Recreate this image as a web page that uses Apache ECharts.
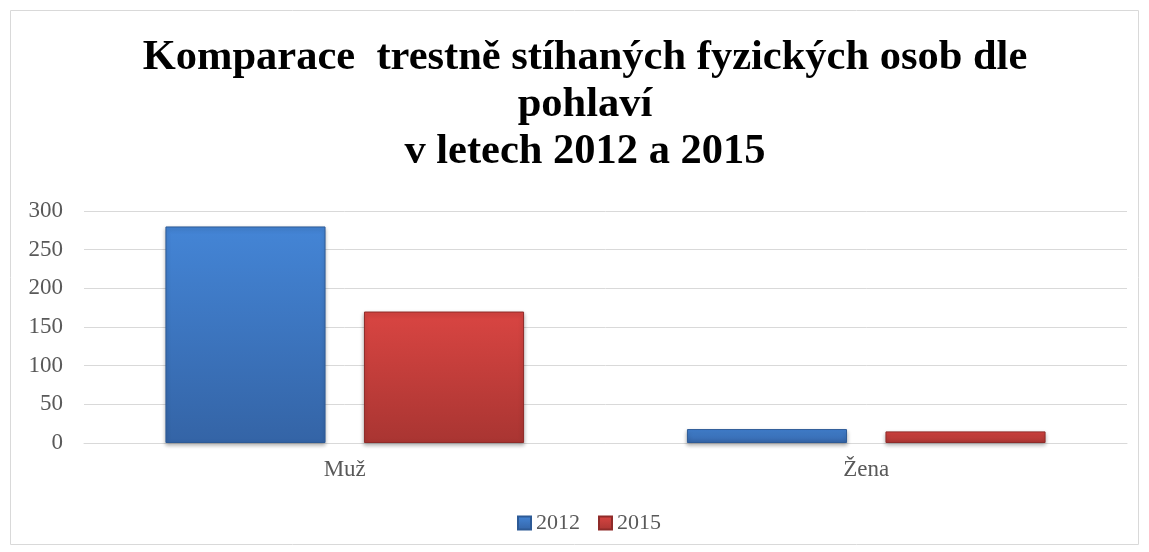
<!DOCTYPE html>
<html>
<head>
<meta charset="utf-8">
<script src="https://cdn.jsdelivr.net/npm/echarts@6/dist/echarts.min.js"></script>
<style>
  html, body { margin: 0; padding: 0; background: #fff; }
  #chart { width: 1149px; height: 552px; }
</style>
</head>
<body>
<div id="chart"></div>
<script>
// data
const categories = ['Muž', 'Žena'];
const values2012 = [280, 18];
const values2015 = [170, 15];
const yTicks = [0, 50, 100, 150, 200, 250, 300];

const chart = echarts.init(document.getElementById('chart'));

function bevel(top, bottom) {
  return new echarts.graphic.LinearGradient(0, 0, 0, 1, [
    { offset: 0, color: top },
    { offset: 1, color: bottom }
  ]);
}

const serif = '"Liberation Serif", "DejaVu Serif", serif';

const option = {
  animation: false,
  textStyle: { fontFamily: serif },
  title: {
    text: 'Komparace  trestně stíhaných fyzických osob dle\npohlaví\nv letech 2012 a 2015',
    left: 580,
    textAlign: 'center',
    top: 30,
    textStyle: {
      fontFamily: serif,
      fontSize: 42.5,
      fontWeight: 'bold',
      color: '#000',
      lineHeight: 47
    }
  },
  graphic: [{
    type: 'rect',
    shape: { x: 10.5, y: 10.5, width: 1128, height: 534 },
    style: { fill: 'none', stroke: '#d9d9d9', lineWidth: 1 },
    silent: true
  }],
  legend: {
    top: 507,
    left: 512,
    icon: 'rect',
    itemWidth: 13,
    itemHeight: 13,
    itemGap: 18,
    textStyle: { fontFamily: serif, fontSize: 22, color: '#595959' },
    data: ['2012', '2015']
  },
  grid: { left: 84, right: 22, top: 211, bottom: 109 },
  xAxis: {
    type: 'category',
    data: categories,
    axisLine: { lineStyle: { color: '#d9d9d9' } },
    axisTick: { show: false },
    axisLabel: { fontFamily: serif, fontSize: 23, color: '#595959', margin: 15 }
  },
  yAxis: {
    type: 'value',
    min: yTicks[0],
    max: yTicks[yTicks.length - 1],
    interval: 50,
    axisLine: { show: false },
    axisTick: { show: false },
    splitLine: { lineStyle: { color: '#d9d9d9' } },
    axisLabel: { fontFamily: serif, fontSize: 23, color: '#595959', margin: 21 }
  },
  series: [
    {
      name: '2012',
      type: 'bar',
      data: values2012,
      barWidth: '30.7%',
      barGap: '24%',
      itemStyle: {
        color: bevel('#4485d6', '#3464a6'),
        borderColor: '#2d5a96',
        borderWidth: 1,
        shadowColor: 'rgba(0,0,0,0.3)',
        shadowBlur: 4,
        shadowOffsetY: 2
      }
    },
    {
      name: '2015',
      type: 'bar',
      data: values2015,
      barWidth: '30.7%',
      itemStyle: {
        color: bevel('#d94542', '#a93532'),
        borderColor: '#8f2b29',
        borderWidth: 1,
        shadowColor: 'rgba(0,0,0,0.3)',
        shadowBlur: 4,
        shadowOffsetY: 2
      }
    }
  ]
};

chart.setOption(option);
</script>
</body>
</html>
